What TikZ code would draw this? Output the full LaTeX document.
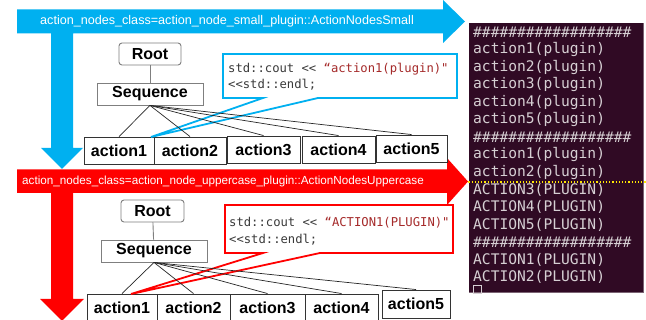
\documentclass[tikz,border=0pt]{standalone}
\usepackage{fontspec}
\setmainfont{Liberation Sans}
\newfontfamily\termfont{DejaVu Sans Mono}
\newfontfamily\codefont{DejaVu Sans Mono}
\definecolor{cyanband}{HTML}{00B0F0}
\definecolor{redband}{HTML}{FF0000}
\definecolor{termbg}{HTML}{300A24}
\definecolor{termfg}{HTML}{D6CFD3}
\definecolor{codestr}{HTML}{A52A2A}
\definecolor{codefg}{HTML}{3A3A3A}
\definecolor{boxgray}{HTML}{7F7F7F}

\begin{document}
\begin{tikzpicture}[x=1pt,y=-1pt,
  rootbox/.style={draw=boxgray,line width=0.9pt,rounded corners=3pt,inner sep=0pt,
    font=\fontsize{16}{16}\selectfont\bfseries,minimum height=22pt},
  seqbox/.style={draw=boxgray,line width=0.9pt,inner sep=0pt,
    font=\fontsize{16}{16}\selectfont\bfseries,minimum height=22pt},
  actbox/.style={draw=black!80,line width=0.9pt,inner sep=0pt,
    font=\fontsize{16}{16}\selectfont\bfseries},
  fan/.style={draw=black!85,line width=0.7pt},
  bandtext/.style={text=white,anchor=west,inner sep=0pt,font=\fontsize{12.6}{13}\selectfont},
  codetext/.style={anchor=west,inner sep=0pt,text=codefg,font=\codefont\fontsize{12.2}{16}\selectfont,align=left},
  termline/.style={anchor=west,inner sep=0pt,text=termfg,font=\termfont\fontsize{14.6}{15}\selectfont},
]
\useasboundingbox (0,0) rectangle (646,320);
\clip (0,0) rectangle (646,320);
\fill[white] (0,0) rectangle (646,320);

% ---------- terminal output ----------
\fill[termbg] (469,23) rectangle (643,292);
\draw[termfg!45!termbg,line width=0.8pt] (469,292) -- (643,292) -- (643,23);
\foreach \txt [count=\i from 0] in {%
  {\#\#\#\#\#\#\#\#\#\#\#\#\#\#\#\#\#\#},
  action1(plugin),action2(plugin),action3(plugin),action4(plugin),action5(plugin),
  {\#\#\#\#\#\#\#\#\#\#\#\#\#\#\#\#\#\#},
  action1(plugin),action2(plugin),
  ACTION3(PLUGIN),ACTION4(PLUGIN),ACTION5(PLUGIN),
  {\#\#\#\#\#\#\#\#\#\#\#\#\#\#\#\#\#\#},
  ACTION1(PLUGIN),ACTION2(PLUGIN)}
  \node[termline] (tl\i) at (473,{32+17.5*\i}) {\txt};
\draw[termfg,line width=0.6pt] (473.5,285.5) rectangle (481.5,293.5);
\draw[yellow!90!orange,line width=1.2pt,dotted] (462,182) -- (646,182);

% ---------- blue L-shaped arrow ----------
\fill[cyanband] (17,9.5) -- (443,9.5) -- (443,0) -- (465,21.5) -- (443,43) -- (443,33.5)
  -- (73,33.5) -- (73,148) -- (83,148) -- (62,169) -- (41,148) -- (51,148) -- (51,33.5)
  -- (17,33.5) -- cycle;
\node[bandtext] (bandA) at (40,21.5) {action\_nodes\_class=action\_node\_small\_plugin::ActionNodesSmall};

% ---------- red L-shaped arrow ----------
\fill[redband] (17,169.5) -- (447,169.5) -- (447,158) -- (468,181.5) -- (447,205) -- (447,193)
  -- (73,193) -- (73,299) -- (84,299) -- (62,321) -- (40,299) -- (51,299) -- (51,193)
  -- (17,193) -- cycle;
\node[bandtext,font=\fontsize{11.7}{12}\selectfont] (bandB) at (22,181.5) {action\_nodes\_class=action\_node\_uppercase\_plugin::ActionNodesUppercase};

% ---------- upper tree ----------
\node[rootbox,minimum width=62pt] (rootA) at (150,54) {Root};
\node[seqbox,minimum width=106pt] (seqA) at (150,94) {Sequence};
\draw[boxgray,line width=0.9pt] (rootA) -- (seqA);
\node[actbox,minimum width=70pt,minimum height=27pt] (a1A) at (119,150.5) {action1};
\node[actbox,minimum width=72pt,minimum height=27pt] (a2A) at (190,150.5) {action2};
\node[actbox,minimum width=73pt,minimum height=27pt] (a3A) at (263.5,149.5) {action3};
\node[actbox,minimum width=73pt,minimum height=27pt] (a4A) at (338.5,149.5) {action4};
\node[actbox,minimum width=71pt,minimum height=27pt] (a5A) at (411.5,148.5) {action5};

% callout for the upper tree
\coordinate (cA1) at (263,98);
\coordinate (cA2) at (318,98);
\coordinate (tipA) at (151,137);
\filldraw[fill=white,draw=cyanband,line width=1.8pt]
  (223,98) -- (cA1) -- (tipA) -- (cA2) -- (457,98) -- (457,54) -- (223,54) -- cycle;
\node[codetext] (codeA1) at (228,69) {std::cout << \textcolor{codestr}{“action1(plugin)"}};
\node[codetext] (codeA2) at (228,85) {<{}<std::endl;};

\foreach \t in {a1A,a2A,a3A,a4A,a5A}
  \draw[fan] (seqA.south) -- (\t.north);

% ---------- lower tree ----------
\node[rootbox,minimum width=63pt] (rootB) at (152.5,211) {Root};
\node[seqbox,minimum width=106pt] (seqB) at (154,251) {Sequence};
\draw[boxgray,line width=0.9pt] (rootB) -- (seqB);
\node[actbox,minimum width=70pt,minimum height=28pt] (a1B) at (122,308) {action1};
\node[actbox,minimum width=73pt,minimum height=28pt] (a2B) at (193.5,308) {action2};
\node[actbox,minimum width=75pt,minimum height=28pt] (a3B) at (267.5,308) {action3};
\node[actbox,minimum width=73pt,minimum height=28pt] (a4B) at (341.5,308) {action4};
\node[actbox,minimum width=68pt,minimum height=28pt] (a5B) at (416,304) {action5};

% callout for the lower tree
\coordinate (cB1) at (263,253);
\coordinate (cB2) at (320,253);
\coordinate (tipB) at (131,294);
\filldraw[fill=white,draw=redband,line width=1.8pt]
  (225,253) -- (cB1) -- (tipB) -- (cB2) -- (453,253) -- (453,205) -- (225,205) -- cycle;
\node[codetext] (codeB1) at (229,223) {std::cout << \textcolor{codestr}{“ACTION1(PLUGIN)"}};
\node[codetext] (codeB2) at (229,240) {<{}<std::endl;};

\foreach \t in {a1B,a2B,a3B,a4B,a5B}
  \draw[fan] (seqB.south) -- (\t.north);
\end{tikzpicture}
\end{document}
